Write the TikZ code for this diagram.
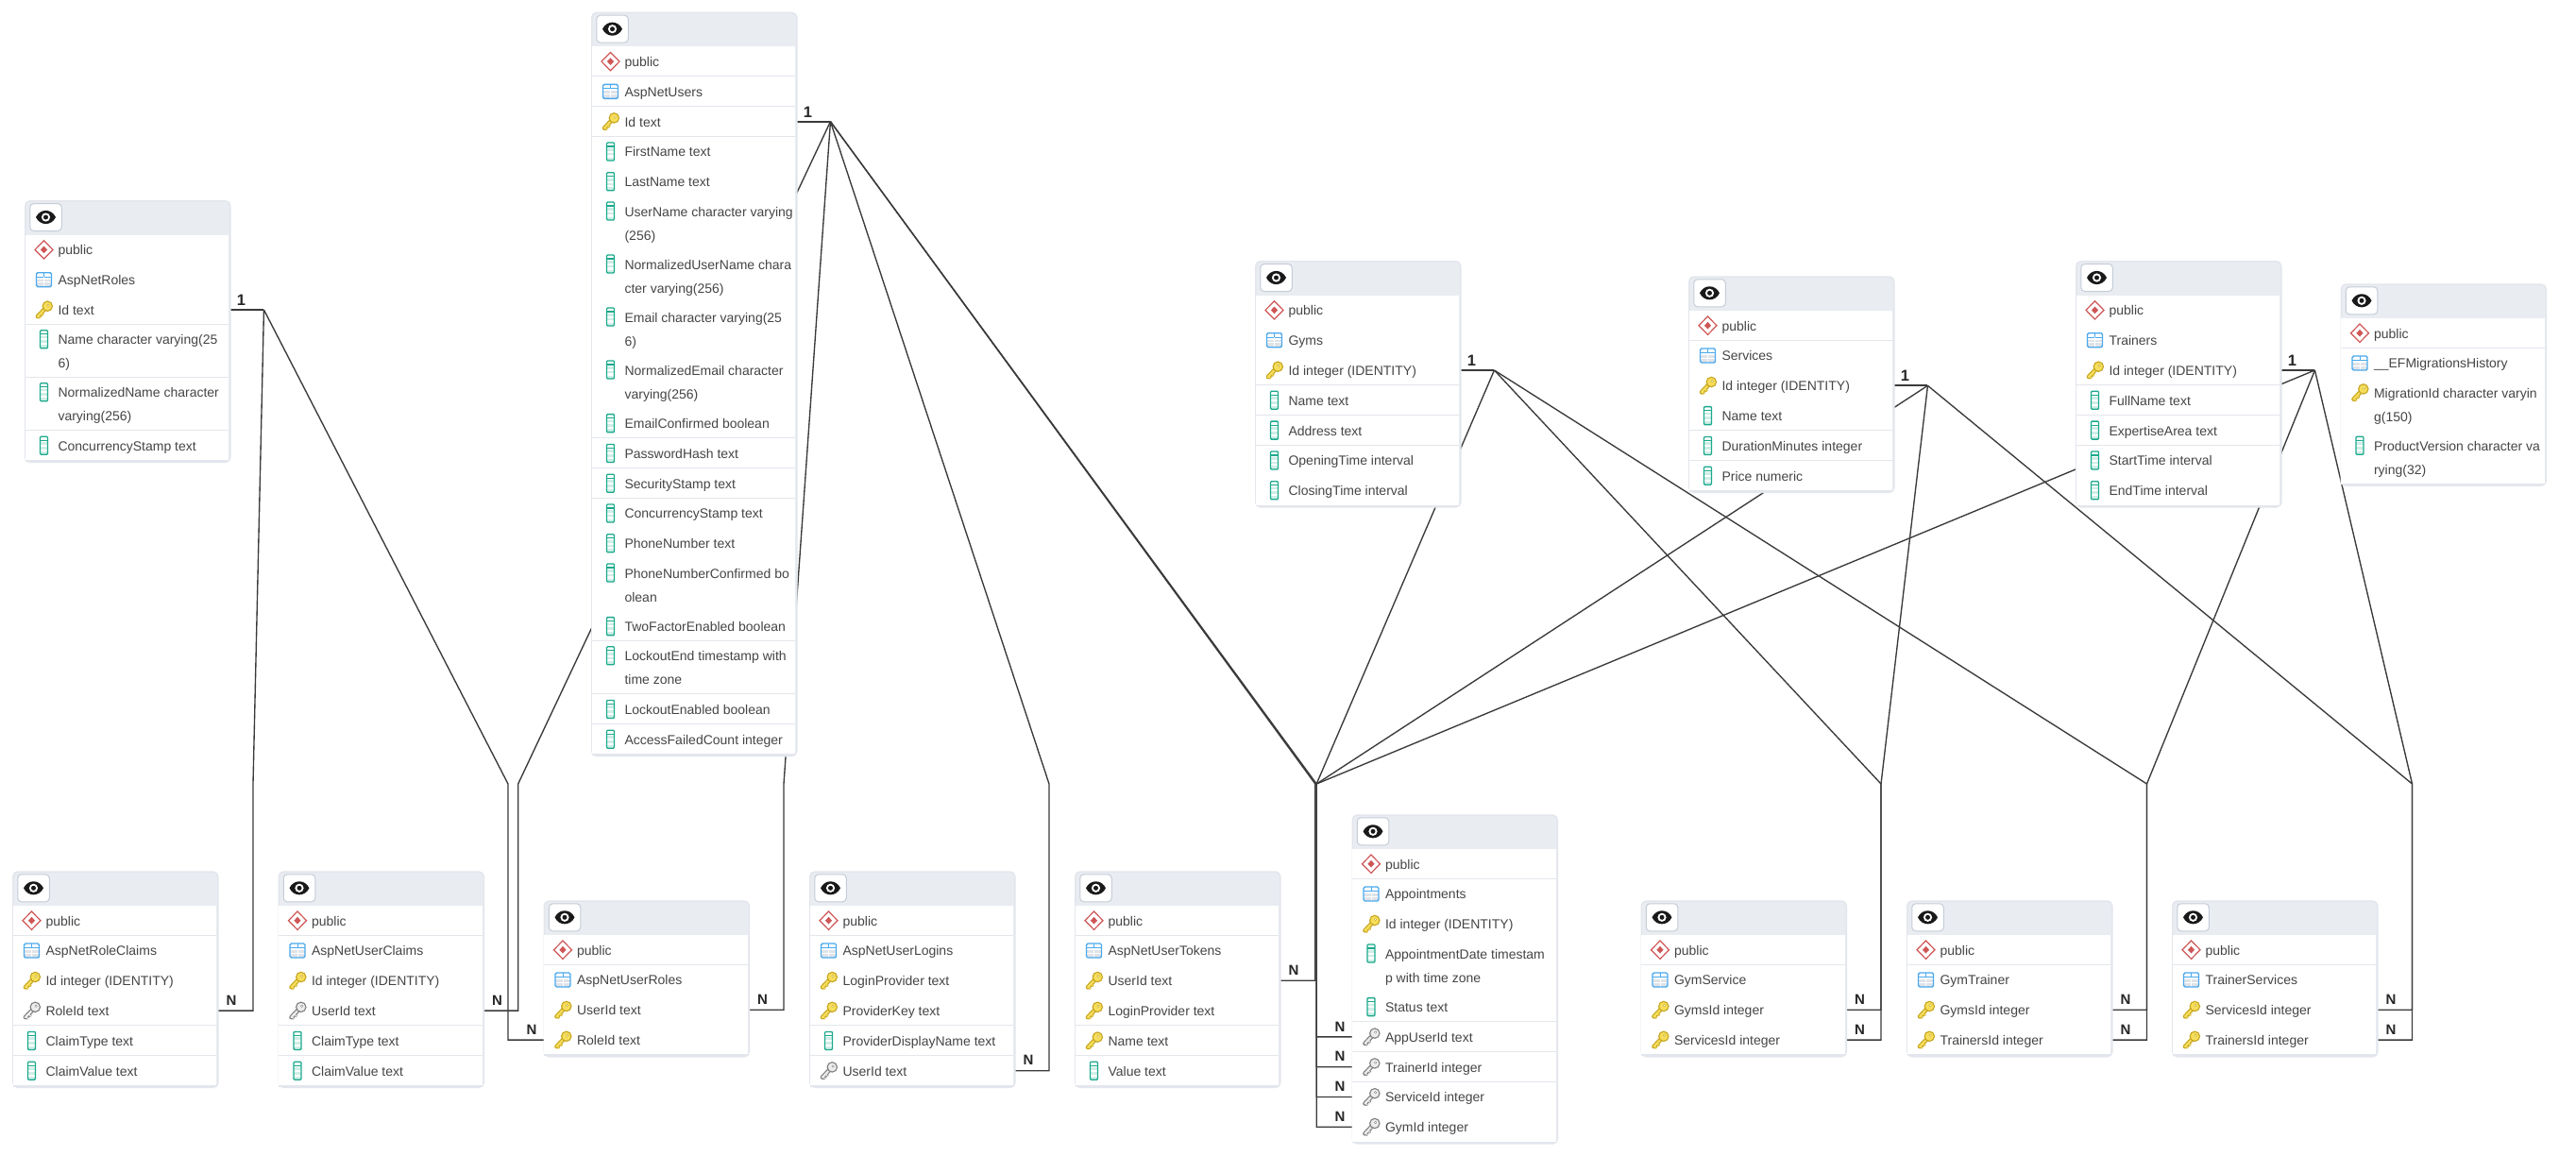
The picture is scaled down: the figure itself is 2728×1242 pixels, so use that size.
\documentclass[tikz,border=0pt]{standalone}
\usepackage{fontspec}
\setmainfont{Liberation Sans}
\pgfdeclarelayer{conn}
\pgfdeclarelayer{base}
\pgfsetlayers{conn,base,main}
\definecolor{ink}{HTML}{3A3A3A}
\definecolor{txt}{HTML}{454545}
\definecolor{sep}{HTML}{E3E6EC}
\definecolor{headfill}{HTML}{E9ECF1}
\definecolor{btnline}{HTML}{C6CDD8}
\definecolor{pubred}{HTML}{CF5656}
\definecolor{tabblue}{HTML}{4BA9EE}
\definecolor{tabgray}{HTML}{DFE3E8}
\definecolor{keyline}{HTML}{C6A51F}
\definecolor{keyfill}{HTML}{F6DE5C}
\definecolor{fkline}{HTML}{7E7E7E}
\definecolor{fkfill}{HTML}{EDEDED}
\definecolor{colgreen}{HTML}{1BA98C}
\definecolor{collight}{HTML}{CFEEE7}
\tikzset{
  cardbase/.style={draw=sep,line width=1.5pt,fill=headfill,rounded corners=5pt,inner sep=0pt,anchor=north west},
  rowbox/.style={fill=white,inner sep=0pt,text=txt,font=\fontsize{14}{25}\selectfont,minimum width=215.5pt},
  rowsep/.style={draw=sep,line width=1.5pt},
  eyebtn/.style={draw=btnline,line width=1pt,fill=white,rounded corners=4pt,minimum width=33.5pt,minimum height=29pt,inner sep=0pt},
  conn/.style={draw=ink,line width=1.35pt,line join=miter},
  stub/.style={draw=ink,line width=2.3pt},
  cardinal/.style={font=\fontsize{15}{15}\selectfont\bfseries,text=black!85,inner sep=0pt},
  cardone/.style={font=\fontsize{16.5}{16.5}\selectfont\bfseries,text=black!85,inner sep=0pt}
}
% icons, drawn round the origin of a scope
\newcommand\iconpub{%
  \draw[pubred,line width=1.2pt,fill=white] (-9.5,0)--(0,-9.7)--(9.5,0)--(0,9.7)--cycle;
  \fill[pubred] (-3.6,0)--(0,-3.8)--(3.6,0)--(0,3.8)--cycle;}
\newcommand\icontab{%
  \fill[tabgray] (-8,-0.5) rectangle (8,7.5);
  \fill[white] (-8,-7.5) rectangle (8,-0.5);
  \draw[tabblue,line width=1pt] (-8,-3) -- (8,-3);
  \draw[white,line width=.8pt] (-8,2.5) -- (8,2.5);
  \draw[tabblue,line width=1pt] (0,-7.5) -- (0,-3);
  \draw[white,line width=.8pt] (0,-3) -- (0,7.5);
  \draw[tabblue,line width=1.4pt,rounded corners=1.5pt] (-8,-7.5) rectangle (8,7.5);}
\newcommand\drawkey[2]{%
  \draw[#1,line width=4.6pt,line cap=round] (2.5,-2.5) -- (-6.5,7);
  \draw[#1,line width=2.6pt] (-3.2,3.6) -- (-0.8,6);
  \draw[#1,line width=2.6pt] (-6,6.5) -- (-3.6,8.6);
  \draw[#2,line width=2.2pt,line cap=round] (2.5,-2.5) -- (-6.5,7);
  \draw[#2,line width=1pt] (-3.2,3.6) -- (-0.8,6);
  \draw[#2,line width=1pt] (-6,6.5) -- (-3.6,8.6);
  \draw[#1,fill=#2,line width=1.1pt] (3.8,-3.8) circle [radius=5.2];
  \fill[#1] (4.6,-4.8) circle [radius=1.5];
  \fill[white] (4.6,-4.8) circle [radius=.8];}
\newcommand\iconkey{\drawkey{keyline}{keyfill}}
\newcommand\iconfk{\drawkey{fkline}{fkfill}}
\newcommand\iconcol{%
  \fill[white] (-4,-9.5) rectangle (4,9.5);
  \fill[collight] (-4,-3.5) rectangle (4,-0.8);
  \fill[collight] (-4,1.2) rectangle (4,3.9);
  \fill[collight] (-4,6) rectangle (4,9.5);
  \draw[colgreen,line width=1.2pt] (-4,-5.5) -- (4,-5.5);
  \draw[colgreen,line width=1.3pt,rounded corners=1pt] (-4,-9.5) rectangle (4,9.5);}
\newcommand\iconeye{%
  \fill[black!90] (-10.5,0) .. controls (-6,-9.4) and (6,-9.4) .. (10.5,0) .. controls (6,9.4) and (-6,9.4) .. (-10.5,0) -- cycle;
  \fill[white] (0,0) circle [radius=4.6];
  \fill[black!90] (0,0) circle [radius=2.5];}
\def\strut{\rule[-7.1pt]{0pt}{25pt}}
% \dbtable{id}{left}{top}{rows: kind/rowid/text/lines}
\newcommand\dbtable[4]{%
  \pgfmathsetmacro\cardcx{#2+108.5}%
  \node[eyebtn] (#1-eye) at (#2+22.5,#3+18) {};
  \begin{scope}[shift={(#2+22.5,#3+18)}]\iconeye\end{scope}
  \pgfmathsetmacro\startcur{#3+36.5}%
  \xdef\cursor{\startcur}%
  \foreach \kd/\rid/\txt/\hh in {#4}{%
    \pgfmathsetmacro\rh{\hh==2?56:31.8}%
    \pgfmathsetmacro\cy{\cursor+\rh/2}%
    \pgfmathsetmacro\iy{\cy-12.7*(\hh-1)}%
    \node[rowbox,minimum height=\rh pt] (#1-\rid) at (\cardcx,\cy)
      {\makebox[215.5pt][l]{\hspace*{34.8pt}\parbox[c]{179pt}{\raggedright\txt}}};
    \draw[rowsep] (#1-\rid.south west) -- (#1-\rid.south east);
    \begin{scope}[shift={(#2+20.5,\iy)}]\csname icon\kd\endcsname\end{scope}
    \pgfmathsetmacro\nxt{\cursor+\rh}%
    \xdef\cursor{\nxt}%
  }%
  \pgfmathsetmacro\cardh{\cursor-#3+1}%
  \begin{pgfonlayer}{base}
    \node[cardbase,minimum width=217pt,minimum height=\cardh pt] (#1) at (#2,#3) {};
  \end{pgfonlayer}
}
\newcommand\wrapln[2]{\strut\mbox{#1}\\\strut\mbox{#2}}
\begin{document}
\begin{tikzpicture}[x=1pt,y=-1pt]
\useasboundingbox (0,0) rectangle (2728,1242);
\begin{pgfonlayer}{conn}\fill[white] (0,0) rectangle (2728,1242);\end{pgfonlayer}

\dbtable{roles}{26}{212}{pub/a/{\strut public}/1,tab/b/{\strut AspNetRoles}/1,key/id/{\strut Id text}/1,col/name/{\wrapln{Name character varying(25}{6)}}/2,col/nname/{\wrapln{NormalizedName character}{varying(256)}}/2,col/cs/{\strut ConcurrencyStamp text}/1}

\dbtable{users}{626}{12.7}{pub/a/{\strut public}/1,tab/b/{\strut AspNetUsers}/1,key/id/{\strut Id text}/1,col/fn/{\strut FirstName text}/1,col/ln/{\strut LastName text}/1,col/un/{\wrapln{UserName character varying}{(256)}}/2,col/nun/{\wrapln{NormalizedUserName chara}{cter varying(256)}}/2,col/em/{\wrapln{Email character varying(25}{6)}}/2,col/nem/{\wrapln{NormalizedEmail character}{varying(256)}}/2,col/ec/{\strut EmailConfirmed boolean}/1,col/ph/{\strut PasswordHash text}/1,col/ss/{\strut SecurityStamp text}/1,col/cs/{\strut ConcurrencyStamp text}/1,col/pn/{\strut PhoneNumber text}/1,col/pnc/{\wrapln{PhoneNumberConfirmed bo}{olean}}/2,col/tf/{\strut TwoFactorEnabled boolean}/1,col/le/{\wrapln{LockoutEnd timestamp with}{time zone}}/2,col/lo/{\strut LockoutEnabled boolean}/1,col/af/{\strut AccessFailedCount integer}/1}

\dbtable{gyms}{1329}{276}{pub/a/{\strut public}/1,tab/b/{\strut Gyms}/1,key/id/{\strut Id integer (IDENTITY)}/1,col/name/{\strut Name text}/1,col/addr/{\strut Address text}/1,col/open/{\strut OpeningTime interval}/1,col/close/{\strut ClosingTime interval}/1}

\dbtable{svc}{1788}{292.3}{pub/a/{\strut public}/1,tab/b/{\strut Services}/1,key/id/{\strut Id integer (IDENTITY)}/1,col/name/{\strut Name text}/1,col/dur/{\strut DurationMinutes integer}/1,col/price/{\strut Price numeric}/1}

\dbtable{trn}{2198}{276}{pub/a/{\strut public}/1,tab/b/{\strut Trainers}/1,key/id/{\strut Id integer (IDENTITY)}/1,col/fn/{\strut FullName text}/1,col/area/{\strut ExpertiseArea text}/1,col/st/{\strut StartTime interval}/1,col/et/{\strut EndTime interval}/1}

\dbtable{ef}{2478.5}{300.3}{pub/a/{\strut public}/1,tab/b/{\strut \_\_EFMigrationsHistory}/1,key/id/{\wrapln{MigrationId character varyin}{g(150)}}/2,col/pv/{\wrapln{ProductVersion character va}{rying(32)}}/2}

\dbtable{rc}{13}{922.3}{pub/a/{\strut public}/1,tab/b/{\strut AspNetRoleClaims}/1,key/id/{\strut Id integer (IDENTITY)}/1,fk/roleid/{\strut RoleId text}/1,col/ct/{\strut ClaimType text}/1,col/cv/{\strut ClaimValue text}/1}

\dbtable{uc}{294.5}{922.3}{pub/a/{\strut public}/1,tab/b/{\strut AspNetUserClaims}/1,key/id/{\strut Id integer (IDENTITY)}/1,fk/userid/{\strut UserId text}/1,col/ct/{\strut ClaimType text}/1,col/cv/{\strut ClaimValue text}/1}

\dbtable{ur}{575.5}{953.3}{pub/a/{\strut public}/1,tab/b/{\strut AspNetUserRoles}/1,key/userid/{\strut UserId text}/1,key/roleid/{\strut RoleId text}/1}

\dbtable{ul}{857}{922.3}{pub/a/{\strut public}/1,tab/b/{\strut AspNetUserLogins}/1,key/lp/{\strut LoginProvider text}/1,key/pk/{\strut ProviderKey text}/1,col/pd/{\strut ProviderDisplayName text}/1,fk/userid/{\strut UserId text}/1}

\dbtable{ut}{1138}{922.3}{pub/a/{\strut public}/1,tab/b/{\strut AspNetUserTokens}/1,key/userid/{\strut UserId text}/1,key/lp/{\strut LoginProvider text}/1,key/name/{\strut Name text}/1,col/val/{\strut Value text}/1}

\dbtable{appt}{1431.5}{862.3}{pub/a/{\strut public}/1,tab/b/{\strut Appointments}/1,key/id/{\strut Id integer (IDENTITY)}/1,col/date/{\wrapln{AppointmentDate timestam}{p with time zone}}/2,col/status/{\strut Status text}/1,fk/user/{\strut AppUserId text}/1,fk/trainer/{\strut TrainerId integer}/1,fk/service/{\strut ServiceId integer}/1,fk/gym/{\strut GymId integer}/1}

\dbtable{gs}{1737.5}{953.3}{pub/a/{\strut public}/1,tab/b/{\strut GymService}/1,key/gym/{\strut GymsId integer}/1,key/svc/{\strut ServicesId integer}/1}

\dbtable{gt}{2019}{953.3}{pub/a/{\strut public}/1,tab/b/{\strut GymTrainer}/1,key/gym/{\strut GymsId integer}/1,key/trn/{\strut TrainersId integer}/1}

\dbtable{ts}{2300}{953.3}{pub/a/{\strut public}/1,tab/b/{\strut TrainerServices}/1,key/svc/{\strut ServicesId integer}/1,key/trn/{\strut TrainersId integer}/1}

% fan-out points beside the parent keys
\coordinate (rolesOut) at ([xshift=37pt]roles-id.east);
\coordinate (usersOut) at ([xshift=37pt]users-id.east);
\coordinate (gymsOut) at ([xshift=37pt]gyms-id.east);
\coordinate (svcOut) at ([xshift=37pt]svc-id.east);
\coordinate (trnOut) at ([xshift=37pt]trn-id.east);
% junctions above the children
\coordinate (jrc) at (268,830);
\coordinate (jur) at (538,830);
\coordinate (juc) at (548.7,830);
\coordinate (juu) at (830,830);
\coordinate (jul) at (1111,830);
\coordinate (jut) at (1392.8,830);
\coordinate (jap) at (1394.2,830);
\coordinate (jgs) at (1992,830);
\coordinate (jgt) at (2273.5,830);
\coordinate (jts) at (2554.5,830);

\begin{pgfonlayer}{conn}
\draw[stub] (roles-id.east) -- (rolesOut);
\draw[stub] (users-id.east) -- (usersOut);
\draw[stub] (gyms-id.east) -- (gymsOut);
\draw[stub] (svc-id.east) -- (svcOut);
\draw[stub] (trn-id.east) -- (trnOut);
\draw[conn] (rolesOut) -- (jrc) -- (jrc |- rc-roleid.east) -- (rc-roleid.east);
\draw[conn] (rolesOut) -- (jur) -- (jur |- ur-roleid.west) -- (ur-roleid.west);
\draw[conn] (usersOut) -- (juc) -- (juc |- uc-userid.east) -- (uc-userid.east);
\draw[conn] (usersOut) -- (juu) -- (juu |- ur-userid.east) -- (ur-userid.east);
\draw[conn] (usersOut) -- (jul) -- (jul |- ul-userid.east) -- (ul-userid.east);
\draw[conn] (usersOut) -- (jut) -- (jut |- ut-userid.east) -- (ut-userid.east);
\draw[conn] (usersOut) -- (jap) -- (jap |- appt-user.west) -- (appt-user.west);
\draw[conn] (trnOut) -- (jap) -- (jap |- appt-trainer.west) -- (appt-trainer.west);
\draw[conn] (svcOut) -- (jap) -- (jap |- appt-service.west) -- (appt-service.west);
\draw[conn] (gymsOut) -- (jap) -- (jap |- appt-gym.west) -- (appt-gym.west);
\draw[conn] (gymsOut) -- (jgs) -- (jgs |- gs-gym.east) -- (gs-gym.east);
\draw[conn] (svcOut) -- (jgs) -- (jgs |- gs-svc.east) -- (gs-svc.east);
\draw[conn] (gymsOut) -- (jgt) -- (jgt |- gt-gym.east) -- (gt-gym.east);
\draw[conn] (trnOut) -- (jgt) -- (jgt |- gt-trn.east) -- (gt-trn.east);
\draw[conn] (svcOut) -- (jts) -- (jts |- ts-svc.east) -- (ts-svc.east);
\draw[conn] (trnOut) -- (jts) -- (jts |- ts-trn.east) -- (ts-trn.east);
\end{pgfonlayer}

% cardinalities
\foreach \p/\q in {roles-id/r1,users-id/u1,gyms-id/g1,svc-id/s1,trn-id/t1}
  \node[cardone] (\q) at ([xshift=13pt,yshift=10pt]\p.east) {1};
\foreach \p/\q in {rc-roleid/n1,uc-userid/n2,ur-userid/n3,ul-userid/n4,ut-userid/n5,gs-gym/n6,gs-svc/n7,gt-gym/n8,gt-trn/n9,ts-svc/n10,ts-trn/n11}
  \node[cardinal] (\q) at ([xshift=15.5pt,yshift=11pt]\p.east) {N};
\foreach \p/\q in {ur-roleid/n12,appt-user/n13,appt-trainer/n14,appt-service/n15,appt-gym/n16}
  \node[cardinal] (\q) at ([xshift=-13pt,yshift=11pt]\p.west) {N};
\end{tikzpicture}
\end{document}
